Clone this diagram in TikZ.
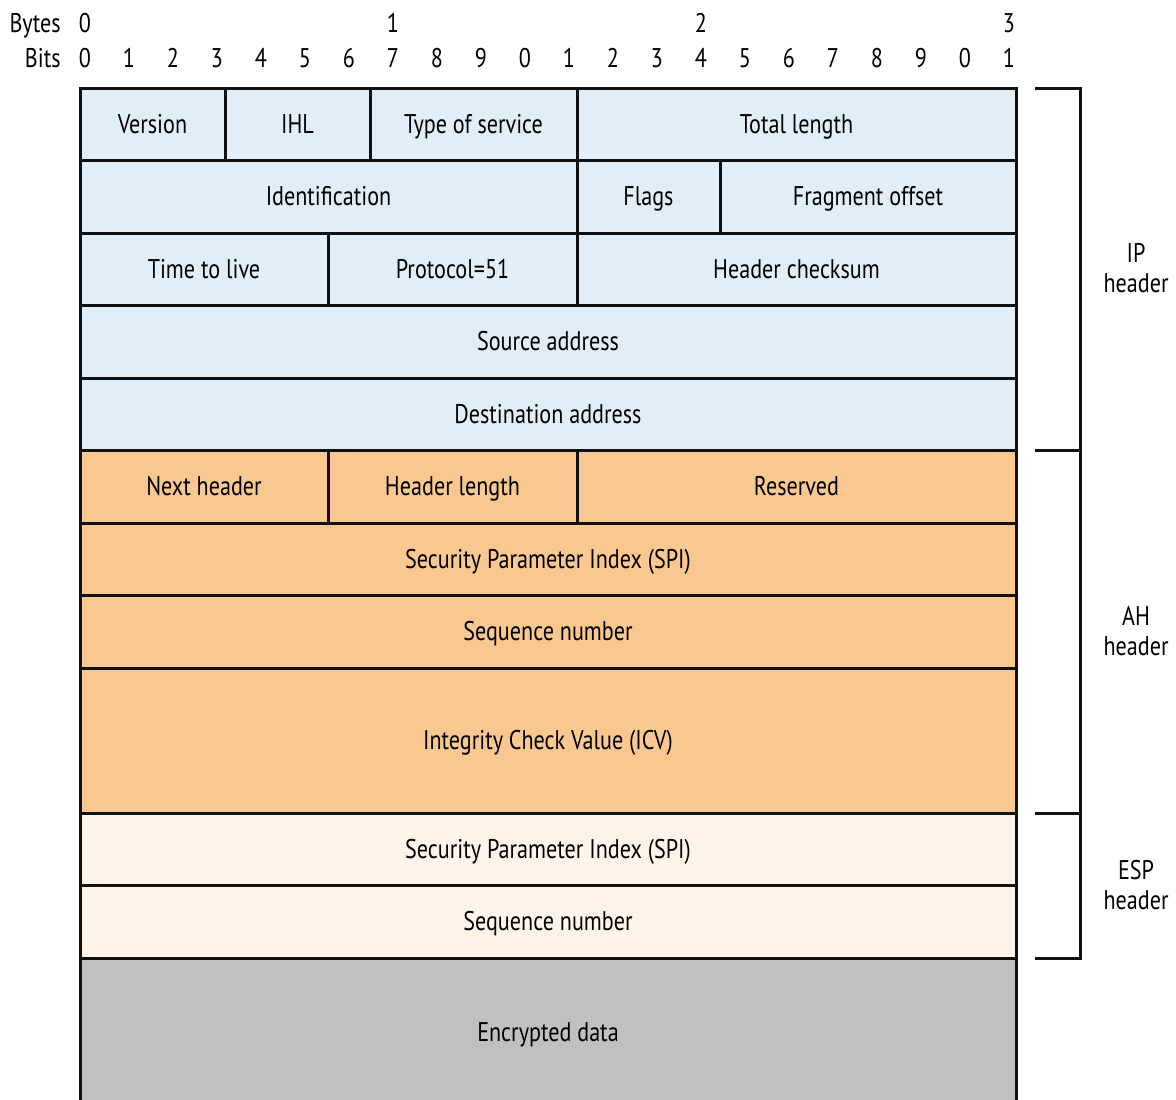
\documentclass[tikz,border=0pt]{standalone}
\usepackage{fontspec}
\setmainfont{PT Sans}[FakeStretch=0.82]
\usepackage{tikz}
\usetikzlibrary{positioning}
\definecolor{ipblue}{HTML}{E1EEF8}
\definecolor{ahorange}{HTML}{F9C890}
\definecolor{espcream}{HTML}{FDF3E9}
\definecolor{datagray}{HTML}{C0C0C0}
\definecolor{ink}{HTML}{111111}

\begin{document}
\begin{tikzpicture}[
    x=0.5pt, y=-0.5pt,
    font=\fontsize{13.5}{15}\selectfont,
    field/.style={draw=ink, line width=1.5pt, inner sep=0pt, outer sep=0pt,
                  anchor=north west, minimum height=36.25pt, align=center,
                  text height=11pt, text depth=2pt},
    ipfield/.style={field, fill=ipblue},
    ahfield/.style={field, fill=ahorange},
    espfield/.style={field, fill=espcream},
    datafield/.style={field, fill=datagray},
    scalelabel/.style={inner sep=0pt, anchor=base},
    sidelabel/.style={inner sep=0pt, align=center},
    bracket/.style={draw=ink, line width=1.5pt}
]
  \useasboundingbox (0,0) rectangle (1176,1099);

  % byte and bit ruler
  \node[scalelabel, anchor=base east] (bytes) at (61,32) {Bytes};
  \node[scalelabel, anchor=base east] (bits) at (61,67) {Bits};
  \foreach \b/\k in {0/0, 1/7, 2/14, 3/21}
    \node[scalelabel] (byte\b) at ({85+44*\k},32) {\b};
  \foreach \i in {0,...,21} {
    \pgfmathtruncatemacro\d{mod(\i,10)}
    \node[scalelabel] (bit\i) at ({85+44*\i},67) {\d};
  }

  % IP header
  \node[ipfield, minimum width=72.5pt] (version) at (80,88) {Version};
  \node[ipfield, minimum width=72.5pt, right=0pt of version] (ihl) {IHL};
  \node[ipfield, minimum width=103.5pt, right=0pt of ihl] (tos) {Type of service};
  \node[ipfield, minimum width=219.5pt, right=0pt of tos] (totlen) {Total length};
  \node[ipfield, minimum width=248.5pt, below right=0pt of version.south west] (ident) {Identification};
  \node[ipfield, minimum width=71.5pt, right=0pt of ident] (flags) {Flags};
  \node[ipfield, minimum width=148pt, right=0pt of flags] (fragoff) {Fragment offset};
  \node[ipfield, minimum width=124pt, below right=0pt of ident.south west] (ttl) {Time to live};
  \node[ipfield, minimum width=124.5pt, right=0pt of ttl] (proto) {Protocol=51};
  \node[ipfield, minimum width=219.5pt, right=0pt of proto] (chksum) {Header checksum};
  \node[ipfield, minimum width=468pt, below right=0pt of ttl.south west] (srcaddr) {Source address};
  \node[ipfield, minimum width=468pt, below right=0pt of srcaddr.south west] (dstaddr) {Destination address};

  % AH header
  \node[ahfield, minimum width=124pt, below right=0pt of dstaddr.south west] (nexthdr) {Next header};
  \node[ahfield, minimum width=124.5pt, right=0pt of nexthdr] (hdrlen) {Header length};
  \node[ahfield, minimum width=219.5pt, right=0pt of hdrlen] (reserved) {Reserved};
  \node[ahfield, minimum width=468pt, below right=0pt of nexthdr.south west] (ahspi) {Security Parameter Index (SPI)};
  \node[ahfield, minimum width=468pt, below right=0pt of ahspi.south west] (ahseq) {Sequence number};
  \node[ahfield, minimum width=468pt, minimum height=72.5pt, below right=0pt of ahseq.south west] (icv) {Integrity Check Value (ICV)};

  % ESP header and payload
  \node[espfield, minimum width=468pt, below right=0pt of icv.south west] (espspi) {Security Parameter Index (SPI)};
  \node[espfield, minimum width=468pt, below right=0pt of espspi.south west] (espseq) {Sequence number};
  \node[datafield, minimum width=468pt, minimum height=74pt, below right=0pt of espseq.south west] (encdata) {Encrypted data};

  % brackets
  \coordinate (iptop) at (1035,88);
  \coordinate (ahtop) at (1035,450.5);
  \coordinate (esptop) at (1035,813);
  \coordinate (espbot) at (1035,958);
  \draw[bracket] (iptop) -- ++(45,0) |- (espbot);
  \draw[bracket] (ahtop) -- ++(45,0);
  \draw[bracket] (esptop) -- ++(45,0);
  \node[sidelabel] (iplabel) at (1136,268) {IP\\header};
  \node[sidelabel] (ahlabel) at (1136,631) {AH\\header};
  \node[sidelabel] (esplabel) at (1136,885) {ESP\\header};
\end{tikzpicture}
\end{document}
